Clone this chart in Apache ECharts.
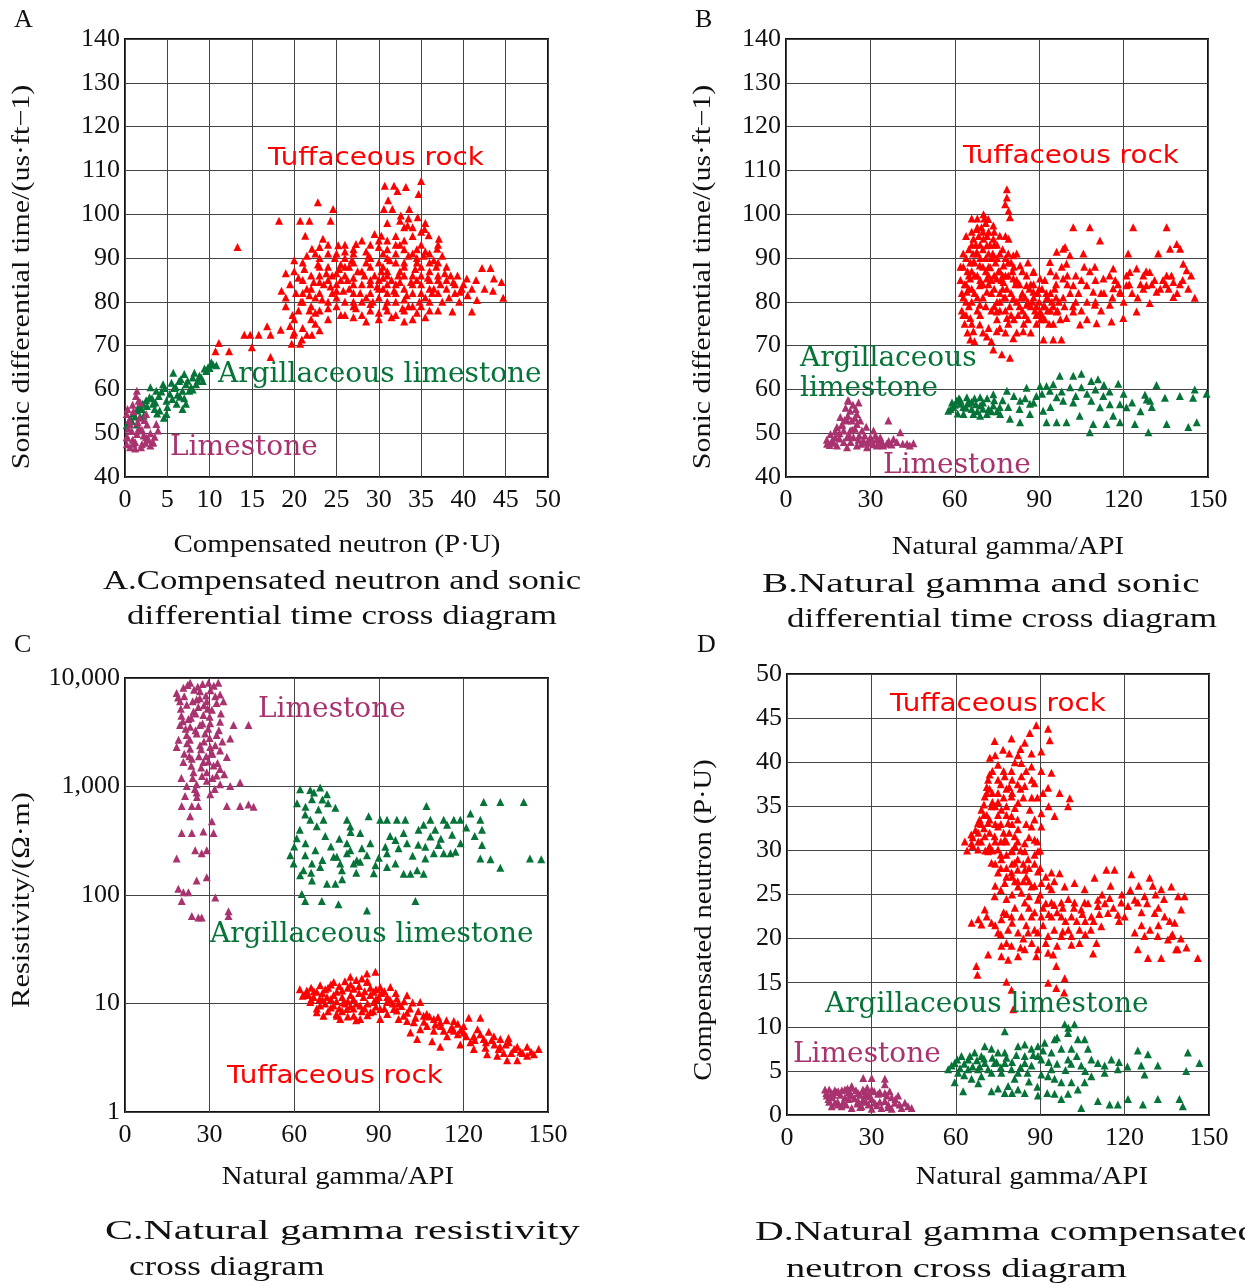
<!DOCTYPE html>
<html><head><meta charset="utf-8">
<script src="https://cdn.jsdelivr.net/npm/echarts@6/dist/echarts.min.js"></script>
<style>html,body{margin:0;padding:0;background:#fff}#c{width:1245px;height:1286px}</style>
</head><body><div id="c"></div>
<script>
// ---------- tick labels ----------
const aXTicks = [0,5,10,15,20,25,30,35,40,45,50];
const sonicTicks = [40,50,60,70,80,90,100,110,120,130,140];
const gammaTicks = [0,30,60,90,120,150];
const resTicks = [1,10,100,1000,10000];
const resTickLabels = ['1','10','100','1,000','10,000'];
const cnlTicks = [0,5,10,15,20,25,30,35,40,45,50];

// ---------- Panel A: compensated neutron (x) vs sonic (y) ----------
const aTuff = [
[13.3,92.5],[18.2,98.5],[20.7,98.5],[21.8,98.5],[22.8,102.7],[24.3,98.5],[24.6,101.2],[30.7,106.5],[31.8,106.5],[32.2,105.3],[33.2,106.2],[35.0,107.6],[34.7,104.6],[31.1,103.2],[30.6,101.2],[31.6,101.2],[33.6,101.2],
[14.1,72.5],[14.8,72.5],[15.8,72.5],[16.8,74.4],[17.2,72.5],[15.0,69.6],[11.1,70.6],[10.7,68.7],[12.3,68.7],[17.2,67.4],[19.7,70.4],[20.7,70.4],[18.4,73.6],[19.9,72.5],[20.9,71.4],[22.1,72.5],
[42.2,87.7],[43.2,87.7],[43.6,85.3],[44.7,80.9],[41.6,80.4],[41.0,77.8],[38.7,77.8],[39.6,82.3],[40.4,85.3],[37.1,94.4],[35.9,95.2],[36.9,92.1],
[32.6,99.7],[34.6,99.3],[33.4,97.4],[35.4,96.6],[29.5,95.5],[30.3,95.1],[23.4,94.4],[21.3,95.1],[25.2,92.9],[27.3,93.2],[22.1,92.1],
[19.5,84],[20.2,82],[20.8,80],[21.5,83],[22,86],[22.5,81],[23,78],[23.5,84],[24,88],[24.5,82],[25,79],[25.5,85],[26,90],[26.5,83],[27,80],[27.5,87],[28,84],[28.5,81],[29,78],[29.5,86],[30,89],[30.5,83],[31,80],[31.5,85],[32,91],[32.5,87],[33,83],[33.5,79],[34,86],[34.5,89],[35,84],[35.5,81],[36,87],[36.5,83],[37,85],[37.5,80],[38,83],[39,82],[40,84],
[19,81],[20,87],[21,89],[22,79],[23,88],[24,76],[25,91],[26,77],[27,91],[28,77],[29,93],[30,76],[31,92],[32,77],[33,94],[34,76],[35,93],[36,78],
[21,85],[23,82],[25,84],[27,84],[29,82],[31,87],[33,89],[35,88],[37,89],[38.5,86],[39.5,80],[22.5,91],[26.5,88],[30.5,91],[34.5,92],[28.5,89],[24.5,86],[20.5,78],[22,76],[21,74],[20,73],
[32,84],[34,82],[36,80],[33,86],[31,82],[29,85],[27,82],[25,81],[23,86],[26,86],[30,81],[32,80],[34,79],[36,85],[38,88],[41,83],[19.8,77],[21.8,78],[35,96],[33,97],[32,95],[31,94],[34,97],[36,91],[37,93],[24,93],[26,93],[28,94],[23,90],[33,92],[30,85],[28,80],[24,80],[26,80],
[20.5,85.5],[21.2,87.5],[21.8,81.5],[22.3,84.5],[22.8,88.5],[23.3,80.5],[23.8,86.5],[24.3,83.5],[24.8,90],[25.3,87.5],[25.8,82.5],[26.3,85],[26.8,89.5],[27.3,78.5],[27.8,82],[28.3,86],[28.8,90.5],[29.3,80],[29.8,83.5],[30.3,87],[30.8,79],[31.3,89.5],[31.8,82.5],[32.3,86],[32.8,78.5],[33.3,81.5],[33.8,84.5],[34.3,87.5],[34.8,80],[35.3,90.5],[35.8,85.5],[36.3,82],[36.8,88],[37.3,84],[37.8,86.5],[38.3,81],[38.8,84.5],[39.3,86],[39.8,83],[40.5,81.5],[41.5,85],[42.5,83],[43.5,82.5],[44.5,84.5],
[30,77.5],[31.5,76.5],[33,75.5],[34.5,77.5],[35.5,76.5],[37,78],[21,80],[22.5,77.5],[24,78.5],[25.5,77],[27,76.5],[28.5,75.5],[20,76],[19.5,74.5],[21.5,72.5],[23,73.5],[22.5,75],
[31,98],[32.5,98.5],[33.5,99],[34,95],[35.5,98],[32.5,93],[30,92.5],[28.5,91.5],[27,89],[25.5,88.5],[24,91],[29,88],[31,90],[33.5,90.5],[34.5,90],[35.5,91.5],[36.5,89.5],[37.5,90.5],[32,89],[30.5,88],[26,91.5],[23,92.5],[21.5,90.5],[20,89.5],[19,86.5],[18.5,82.5],[19,79],
[22,83],[24,85],[26,88],[28,87],[30,83],[32,82],[34,84],[36,83],[38,85],[23,84.5],[25,86.5],[27,85.5],[29,84],[31,84],[33,80.5],[35,82],[37,82],[39,84],[21,82],[25,82.5],[27,79],[29,79.5],[31,78],[33,78],[35,79],[37,86],[30.5,85.5],[32.5,84.5],[34.5,85],[33,88],[31,86],[29,90],[27,92],[35,86],[36,89],[34,91],[32,93],[30,94]
];
const aArg = [
[10.4,65.7],[9.6,64.2],[8.8,63.1],[8.0,62.7],[7.2,61.2],[5.7,63.8],[6.4,61.9],[4.5,61.2],[3.7,59.7],[2.9,58.2],[2.1,56.7],[1.4,55.2],[0.6,53.3],[0.2,51.8],
[4.9,57.4],[6.1,56.7],[7.2,56.7],[3.3,56.7],[4.1,55.2],[4.9,54.4],[1.8,53.7],[5.3,59.0],[6.8,59.7],[7.6,59.7],[8.4,61.2],[9.2,61.9],[10.0,64.9],
[3.0,60.5],[2.5,57.5],[1.0,54.5],[5.8,60.3],[6.5,58.3],[8.6,62.0],[9.8,65.0],[0.4,52.5],[1.6,56.0],[4.0,58.5],[7.8,60.5],
[0.8,52.8],[1.2,53.8],[2.0,55.5],[2.6,56.2],[3.2,58.0],[3.6,57.0],[4.3,59.5],[4.7,60.3],[5.5,61.5],[6.0,60.5],[6.6,62.3],[7.0,63.5],[7.4,62.0],[8.2,63.8],[9.0,62.8],[9.4,64.8],[10.2,66.2],[10.8,65.5],[3.8,54.5],[5.0,56.0],[5.6,57.8],[6.2,58.8],[7.0,58.0],[2.2,54.0],[1.4,52.0],[3.5,55.5],[8.0,60.0],[6.8,55.5],[4.6,53.5]
];
const aLime = [
[1.4,59.7],[1.6,57.4],[0.2,54.4],[0.6,52.1],[1.8,50.6],[2.5,49.1],[3.3,48.0],[1.0,47.6],[1.9,46.8],[0.2,49.1],[3.7,52.1],[3.9,50.6],[2.5,54.4],
[0.3,49],[0.8,50.5],[1.2,48],[1.6,51],[2.2,49.5],[2.8,48.5],[0.5,53],[1.0,55],[1.5,52.5],[2.0,47.5],[3.0,50],[0.2,47.5],[1.8,57],[1.3,58.5],[3.3,47.8],[2.6,52],
[0.4,51],[0.9,48.5],[1.4,49.8],[2.0,50.8],[2.4,47.8],[3.0,47.2],[0.6,46.8],[1.2,46.5],[1.7,53.5],[2.3,53],[3.5,49.2],[0.3,55.5],[0.9,56.5]
];

// ---------- Panel B: natural gamma (x) vs sonic (y) ----------
const bTuff = [
[78.5,105.7],[78.5,103.8],[77.9,102.3],[79.1,100.8],[79.6,99.3],[70.2,100.0],[71.9,98.9],[67.8,96.6],[73.7,97.4],[76.0,95.1],[66.6,94.4],[71.4,92.9],[79.1,94.4],
[66.6,89.1],[68.9,88.3],[73.7,90.6],[80.8,90.6],[83.2,88.3],[65.5,85.3],[64.3,82.3],[66.0,80.0],[68.9,79.3],[71.4,82.3],[74.9,85.3],[80.8,85.3],[85.5,83.8],[87.9,82.3],[85.5,79.3],[90.3,77.8],[92.6,80.8],[96.2,77.8],[99.7,76.3],[104.5,74.8],[102.1,77.8],
[65.5,76.3],[68.9,74.8],[66.6,73.3],[71.4,72.1],[74.9,73.3],[80.8,71.7],[84.3,73.3],[91.5,71.4],[95.0,71.4],[97.9,71.4],[73.7,69.1],[76.7,68.0],[79.6,67.2],[65.5,71.4],[78.5,76.3],[74.9,77.8],[80.8,80.8],[71.4,85.3],[68.9,83.8],[72.6,87.9],[77.3,88.3],[70.2,94.4],[73.7,94.4],[67.8,91.4],[77.3,84.5],
[87.9,86.8],[90.3,85.3],[93.8,89.1],[96.2,91.4],[98.5,92.1],[100.9,90.6],[102.1,97.0],[108.0,97.0],[111.6,94.0],[105.7,91.0],[99.7,88.7],[98.5,85.3],[102.1,83.8],[106.9,83.8],[109.8,88.0],[109.2,82.3],[112.8,85.3],[116.3,87.6],[116.3,83.1],[109.8,79.3],[115.1,79.3],[118.7,82.3],[121.0,83.8],[122.2,86.8],[121.6,91.0],[123.4,97.0],[124.6,87.6],[127.0,86.0],[129.3,86.8],[128.1,83.8],[131.7,82.3],[135.3,97.0],[132.3,91.0],[136.5,92.1],[140.1,92.1],[138.9,93.2],[141.2,88.7],[135.3,86.0],[137.7,84.5],[137.7,81.1],[145.3,80.9],[142.4,87.2],[129.3,79.7],[124.6,77.8],[119.9,76.3],[115.7,75.5],[110.4,75.1],[99.2,92.5],
[62,85],[63,88],[64,80],[65,92],[66,83],[67,86],[68,81],[69,90],[70,84],[71,79],[72,88],[73,82],[74,86],[75,80],[76,91],[77,83],[78,78],[79,86],[80,82],[81,76],[82,80],[83,84],[84,78],[85,81],[86,76],[87,79],[88,84],[89,77],[90,80],[91,83],[92,76],[93,78],[94,82],[95,75],[97,80],[99,79],[101,82],[103,80],[105,78],[107,76],
[63,77],[66,75],[69,77],[72,74],[75,76],[78,73],[64,95],[68,97],[72,96],[66,99],[70,92],[74,93],[76,87],[78,90],[65,86],[68,91],[71,87],[73,90],
[108,87],[112,82],[115,86],[118,84],[120,80],[122,84],[126,84],[130,84],[134,85],[136,83],[140,84],[143,83],[105,85],[100,86],[96,84],
[62.5,82],[63.5,84],[64.5,87],[65.5,89],[66.5,91],[67.5,93],[68.5,95],[69.5,97],[70.5,99],[71.5,95],[72.5,93],[73.5,91],[74.5,89],[75.5,87],[76.5,85],[77.5,81],[78.5,83],[79.5,79],[80.5,87],[81.5,84],[82.5,77],[83.5,81],[84.5,75],[85.5,86],[86.5,83],[87.5,80],[88.5,78],[89.5,82],[90.5,76],[91.5,79],[92.5,82],[93.5,75],[94.5,80],[95.5,83],[96.5,78],[97.5,76],[98.5,81],
[62.5,78],[63.5,75],[64.5,73],[67,71],[70,73],[73,71],[76,74],[79,75],[82,73],[87,73],[89,75],[64,90],[66,93],[68,86],[70,88],[72,84],[74,79],[76,82],[78,86],[80,89],[82,91],[84,87],[86,89],[88,87],[92,85],[94,87],[96,86],[98,88],[100,84],[103,86],[106,88],[110,85],[113,82],[117,85],[119,82],[121,86],[123,82],[125,81],[127,83],[128,87],[131,85],[133,83],[135,84],[137,86],[139,82],[141,85],[144,86],[110,80],[104,82],[107,80],[112,78],[116,81],[102,79],
[62,88],[63,91],[64,84],[65,79],[66,87],[67,82],[68,78],[69,85],[70,81],[71,90],[72,86],[73,78],[74,83],[75,90],[76,78],[77,86],[78,81],[79,89],[80,77],[63,81],[64,77],[65,83],[66,96],[67,89],[68,99],[69,93],[70,96],[71,98],[72,91],[73,85],[74,96],[75,93],[76,80],[77,92],[78,95],[79,91],[81,88],[82,85],[83,79],[84,82],[85,77],[86,80],[87,84],[88,81],[89,79],[90,83],[91,77],[92,79],[93,81],[94,78],[95,79],[96,81]
];
const bArg = [
[57.7,55.1],[60.7,57.4],[64.3,58.2],[69.0,58.2],[73.7,58.9],[78.5,59.7],[83.2,57.4],[85.5,60.4],[90.3,60.8],[92.6,60.8],[95.0,61.2],[97.3,63.1],[102.1,63.1],[105.0,63.6],[108.5,61.9],[110.9,62.3],[118.1,61.3],[131.7,61.0],[145.3,60.0],[149.5,59.0],[144.7,58.1],[134.7,58.1],[128.2,57.7],[127.6,58.8],
[112.8,58.5],[115.1,56.6],[118.7,56.6],[116.3,54.0],[111.6,55.9],[108.5,57.4],[104.4,54.0],[102.1,57.0],[98.5,57.4],[99.7,52.5],[96.2,52.5],[92.6,52.5],[91.4,55.1],[86.7,54.4],[83.2,52.5],[79.6,53.3],[76.1,54.4],[73.7,56.3],[71.4,54.4],[69.0,56.3],[66.6,54.4],[63.1,54.4],[61.9,56.7],[59.5,56.0],
[109.2,52.1],[113.9,52.1],[118.7,52.5],[124.0,52.1],[128.8,50.2],[108.0,50.2],[135.3,52.1],[143.0,51.4],[129.4,57.4],[121.0,55.9],[86.7,56.7],[93.8,59.7],[96.2,58.2],
[58.5,55.5],[60,56.5],[62,57.5],[63,56],[65,57],[66,55.5],[67,58],[68,55],[70,57],[72,55.5],[74,57.5],[76,56],[61,54.5],[64,55.8],[69,54],
[59,57],[61.5,58],[64.5,56.8],[66,57.2],[67.5,56.6],[70,55.6],[71.5,58],[73,55],[75,55],[77,57.5],[79,56],[81,58.5],[83,55.5],[85,58],[88,57],[89,58.5],[91,59],[94,56],[98,59.5],[101,60.5],[103,58.5],[105,60.5],[107,59],[110,60],[113,61],[115,59.5],[120,59],[123,57],[126,55],[130,56],[140,58.5],[146,52.5]
];
const bLime = [
[22.3,57.4],[25.8,57.0],[22.8,55.1],[25.2,54.4],[21.7,52.9],[18.1,51.4],[15.8,49.8],[14.6,47.6],[18.1,47.2],[21.7,46.8],[25.2,47.2],[28.8,46.8],[32.3,47.2],[35.8,47.6],[39.4,48.0],[43.0,47.6],[45.3,47.7],[40.6,50.2],[36.4,52.9],[31.1,50.6],[30.0,49.1],[27.0,50.6],[25.2,52.1],[20.5,50.6],[17.5,49.1],[24.0,49.1],[27.6,48.3],[33.5,49.1],[19.3,53.7],[23.4,52.9],[26.4,52.9],[21.7,49.1],[20.5,48.0],[22.8,50.6],[32.3,48.7],[38.2,48.7],
[16.5,48.5],[19,50],[23,48],[26,49.5],[29,48],[31,47.5],[34,48.2],[24.5,51],[22,54],[20,52],
[14.5,48.5],[15.5,47.3],[16.8,47.8],[17.5,50.5],[19,48.8],[19.8,51.8],[20.8,53],[21.2,55.8],[22.5,49.5],[23.5,50.8],[24.5,53.5],[25.8,48.5],[26.8,47.6],[28,49.5],[28.5,51.5],[29.5,47.8],[30.5,48.5],[31.8,49.5],[33,47.6],[34.5,47.2],[36.5,48.2],[37.5,47.4],[41.5,47.6],[44,47.2],[23.8,56.5],[22,57.5],[24.8,55.5]
];

// ---------- Panel C: natural gamma (x) vs resistivity (y, log) ----------
const cTuff = [
[64.5,13.2],[69.2,14.7],[74.0,15.8],[79.9,17.6],[85.8,18.9],[88.8,19.6],[71.6,11.5],[66.9,11.5],[75.1,12.8],[81.1,13.7],[85.8,15.8],[90.5,14.2],[94.1,14.2],[100.0,11.9],[104.7,10.3],
[69.2,9.6],[74.0,9.6],[78.7,8.9],[83.4,9.6],[88.2,10.3],[92.9,10.3],[96.4,11.1],[70.4,7.7],[75.1,7.7],[81.1,7.7],[87.0,8.3],[90.5,7.2],[95.3,8.9],[98.8,7.7],[102.4,6.7],[105.9,7.7],[109.5,7.2],[111.8,6.7],[116.6,6.9],[121.9,7.4],[126.0,7.4],
[116.6,5.6],[120.1,5.4],[123.7,5.0],[127.2,4.7],[130.8,5.0],[133.1,4.7],[136.1,4.4],[139.1,4.0],[142.6,4.0],[146.7,3.8],[101.2,5.4],[103.6,4.7],[108.9,4.5],[111.8,4.0],[118.9,4.2],[123.7,3.8],[128.4,3.4],[132.0,3.3],[135.5,3.0],[139.1,3.0],[142.6,3.3],[132.5,3.8],[127.8,3.9],[122.5,4.4],[114.2,5.0],[109.5,5.6],[107.1,6.2],
[77.5,10.3],[84.6,11.5],[88.2,12.8],[96.4,8.6],[100.0,6.9],[65.7,10.3],[68.0,8.3],[64.5,12.3],[76.3,7.2],[83.4,7.2],[90.5,8.9],[104.7,5.8],[115.4,5.8],[120.1,6.2],[134.3,3.5],[140.2,3.6],
[67,13],[70,12.5],[72,14],[76,14.5],[78,16],[82,16.5],[84,17],[86,16],[73,11],[77,11.5],[80,12],[83,12.5],[87,12],[90,11.5],[93,11.5],[68,9],[72,8.5],[76,9],[80,9.5],[84,8.5],[88,8.5],[92,9],[95,10],[98,9.5],[101,9],[104,8.5],[107,8],[111,7.5],[114,7],[118,6.5],
[63.5,12],[66,14],[71,10],[79,10.5],[86,10],[89,13.5],[75,8],[82,7],[125,5.8],[129,5.5],[136,4.8],[144,3.6],[113,5.6],[118,5.2],[131,4.2],[137,3.5],
[62,13.5],[63,11.8],[65,12],[68,12.8],[69,11],[71,13.5],[73,15],[74,12],[75,10.5],[77,13.2],[78,10],[79,14],[80,15],[81,11],[82,10],[83,14.5],[85,13],[85,9],[87,14],[89,11],[91,12.5],[92,13],[94,10.8],[96,12.5],[97,10],[99,10.5],[102,10.2],[103,7.4],[106,6.8],[108,7.6],[110,6.4],[112,6.2],[116,6],[119,5.7],[121,5],[124,4.6],[126,5.2],[128,4.4],[130,4.6],[133,4],[135,4.2],[138,3.8],[141,3.5],[145,3.4],[66,10.8],[70,10.8],[73,9.2],[77,8.5],[79,7.6],[81,9],[86,7.8],[89,9.4],[93,8],[97,7.2],[100,8.2]
];
const cArg = [
[62.1,945],[65.7,930],[69.2,980],[71.6,848],[66.3,761],[74.6,636],[68.6,614],[63.9,551],[65.7,495],[70.4,495],[78.7,495],[79.9,429],[83.4,372],[86.4,532],[90.5,495],[92.9,495],[96.4,495],[99.4,495],
[106.9,660],[108.3,495],[104.1,399],[105.9,445],[113.0,495],[114.2,445],[116.6,495],[118.9,495],[122.5,563],[126.0,495],[127.2,719],[133.1,719],[141.4,719],[126.6,399],[126.6,289],[126.0,217],[129.6,214],[133.1,178],[143.6,217],[147.6,214],
[108.3,346],[111.2,289],[106.5,279],[109.5,242],[115.4,242],[117.2,250],[113.0,242],[106.5,217],[95.9,322],[98.8,372],[100.0,300],[92.3,279],[92.9,242],[95.9,195],[92.9,181],[88.8,188],[85.8,233],[82.2,209],[81.1,195],
[78.7,300],[78.7,242],[75.1,225],[76.3,195],[76.9,169],[79.9,259],[74.0,225],[69.2,181],[66.3,195],[63.3,169],[62.1,152],[59.8,195],[58.6,233],[60.9,334],[63.9,233],[67.5,259],[66.3,136],[71.6,127],[74.6,127],
[62.7,102],[63.9,88],[69.8,88],[75.7,82],[85.8,72],[103.0,88],[101.2,157],[103.6,169],[105.9,157],[98.8,157],[88.2,159],[83.4,202],
[61,700],[64,650],[67,880],[70,760],[72,700],[62,400],[64,300],[68,430],[71,350],[73,280],[76,330],[80,380],[84,270],[87,300],[90,220],[94,350],[97,270],[102,230],[104,290],[110,400],[112,330],[116,360],[119,300],[121,420],[124,350],[60,280],[66,160],[70,210],[77,140],[82,160]
];
const cLime = [
[18.3,7290],[20.7,8130],[23.1,9040],[26.6,7560],[29.6,9040],[33.1,9040],[33.7,7030],[19.5,6100],[21.9,5680],[25.4,6320],[29.0,6100],[32.5,5880],[34.9,6100],[24.3,4920],[27.8,4570],[30.8,5090],
[19.5,3690],[23.1,3560],[26.6,3690],[30.2,3830],[33.7,3960],[38.5,3690],[43.8,3690],[21.9,2980],[25.4,3080],[28.4,3080],[32.5,2980],[37.3,2770],[18.3,2310],[23.1,2230],[26.6,2400],[30.2,2310],[33.7,2150],[36.1,1870],
[20.7,1680],[23.7,1800],[27.8,1680],[31.4,1560],[33.7,1450],[24.3,1350],[29.0,1350],[32.5,1260],[21.9,1010],[25.4,1050],[29.0,1130],[33.7,1050],[37.3,1010],[40.8,1090],[21.3,818],[25.4,879],[30.2,848],
[23.7,660],[26.0,660],[20.1,660],[36.1,660],[40.8,660],[43.8,684],[45.6,650],[23.1,532],[30.8,478],[20.1,372],[23.7,372],[27.8,385],[31.4,372],[24.9,259],[27.2,242],[29.0,259],[18.3,217],[25.4,136],[29.0,146],
[18.9,114],[20.7,106],[22.5,106],[32.0,95],[20.1,88],[23.7,64],[26.0,62],[36.7,64],[36.7,71],[27.2,62],
[22.5,4200],[25,3300],[28,2600],[31,2000],[27,1500],[23,2700],[30,4400],[24.5,7800],[21,6800],[26,5400],[29.5,3400],[32,2400],[20,4500],[31.5,8500],[27.5,8800],
[18.8,6600],[19.8,5200],[20.5,4000],[21.5,3400],[22,2500],[22.8,1900],[23.5,1550],[24,1200],[24.8,950],[25.5,800],[26.2,1900],[27,2200],[27.5,3800],[28,5600],[28.7,6900],[29.3,5200],[30,2800],[30.5,2000],[31,1200],[31.8,950],[32.8,1650],[33.3,3300],[34,4700],[34.5,2600],[35.2,1300],[19,2700],[20,1200],[21,2000],[22.2,8600],[25.8,8300],[24,6100],[26.5,6500],[30.3,7700],[32,6800],[27.3,1250],[28.8,1900],[29.6,1700],[23.4,4300],[25,4700]
];

// ---------- Panel D: natural gamma (x) vs compensated neutron (y) ----------
const dTuff = [
[88.6,44.2],[92.8,43.8],[86.3,43.3],[93.4,42.5],[73.8,42.4],[79.8,42.7],[84.5,42.2],[76.8,41.4],[82.1,40.8],[86.9,41.0],[90.4,41.2],[72.1,40.5],[75.0,39.7],[83.3,39.9],[86.9,39.5],[79.8,39.0],[83.3,38.4],[90.4,39.0],[94.0,38.8],
[71.5,38.0],[77.4,38.4],[84.5,37.3],[88.0,37.6],[92.8,37.1],[96.9,36.5],[100.5,35.9],[99.9,35.0],[95.1,33.9],[90.4,34.2],[86.3,34.6],[82.1,35.4],[70.3,36.1],[75.0,36.5],[79.8,36.1],[69.1,34.6],[72.7,35.0],[76.2,34.6],[79.8,33.9],
[67.9,33.1],[71.5,33.1],[75.0,32.7],[78.6,33.1],[82.1,32.4],[86.9,32.7],[90.4,32.7],[70.3,31.6],[73.8,31.6],[77.4,31.2],[80.9,31.6],[84.5,30.8],[88.0,31.2],[63.2,31.0],[65.6,30.8],[67.9,30.1],[71.5,29.9],[75.0,30.1],[79.8,29.9],[84.5,29.9],[89.2,29.9],
[72.7,28.6],[76.2,29.0],[80.9,28.6],[85.7,29.0],[75.0,27.5],[79.8,27.5],[84.5,27.8],[89.2,27.6],[94.0,27.5],[96.9,27.4],[90.4,26.3],[77.4,26.3],[82.1,25.9],[86.9,25.9],[73.8,24.8],[83.3,25.2],[94.0,25.6],[98.7,25.9],[102.2,26.3],[105.8,25.6],[109.3,26.9],[113.5,27.8],[116.4,27.8],[122.4,27.3],[128.9,26.9],[136.6,25.9],[141.3,24.8],[133.0,25.6],[127.1,24.8],[123.6,24.4],[118.8,24.1],[114.7,24.6],[110.5,24.4],[105.8,24.1],[102.2,24.1],[97.5,24.1],[94.0,24.1],[89.2,24.4],[84.5,24.1],
[70.3,23.3],[65.6,21.8],[69.1,21.6],[72.7,21.8],[76.2,22.2],[79.8,22.5],[83.3,22.5],[86.9,22.5],[90.4,22.5],[94.0,22.5],[97.5,22.5],[101.1,22.5],[104.6,23.3],[108.2,22.5],[110.5,23.7],[114.1,22.9],[117.6,22.7],[121.2,23.7],[124.7,24.1],[130.7,22.9],[134.2,22.5],[137.8,21.8],[140.1,23.3],
[75.0,20.7],[78.6,21.0],[82.1,20.7],[85.7,20.7],[89.2,20.7],[92.8,20.3],[97.5,20.3],[101.1,20.3],[111.7,21.4],[123.6,20.7],[127.1,20.3],[131.8,20.3],[136.6,20.3],[138.9,18.8],[135.4,19.9],[124.7,18.8],[128.3,17.8],[133.0,17.8],[138.3,18.8],[146.0,17.8],
[71.5,18.2],[76.2,19.2],[79.8,19.2],[84.5,18.8],[89.2,18.8],[92.8,18.4],[76.2,18.0],[78.6,17.6],[82.1,18.0],[88.6,18.0],[94.6,18.2],[101.1,19.3],[108.8,18.3],[67.3,16.9],[67.7,15.9],[78.0,15.1],[79.8,14.2],[92.8,15.0],[95.7,14.4],[98.7,15.5],[98.5,13.9],[95.7,16.9],[80.4,12.0],
[68,32],[70,34],[72,37],[74,33],[76,31],[78,35],[80,30],[82,29],[73,30],[69,31],[66,31.5],[71,36.5],[75,38],[78,27],[81,26.5],[85,27],[88,26],[90,25],[92,24],[96,23],[99,22],[102,23.5],[106,22],[112,25],[115,26],[119,25],[125,26],[131,25],[77,23],[81,23.5],[85,21.5],[88,21],[78,19.5],[83,19],[87,19.5],[91,21.5],[95,21],[100,21],[104,21],[108,21],
[64,30],[65.5,31.8],[67,32.3],[68.5,33.5],[70,35.2],[71,37.2],[72,38.6],[73,39],[74,40.8],[76,37.5],[77,36],[78,34],[79,37.2],[80,38],[81,34.8],[82,33.5],[83,37],[84,36],[85,33],[86,31.5],[87,36],[88,33.5],[89,31],[70.5,30],[72,32],[74,28.5],[76,28],[78,29.5],[80,28.5],[82,27.8],[84,26.5],[86,28],[88,28.5],[90,28],[92,27],[93,26],[95,26.5],[74,26],[76,25.5],[78,24.5],[80,25],[86,24.8],[91,23.5],[93,22.8],[95,23.8],[98,23.5],[100,24.5],[103,22],[105,22.8],[107,24],[109,22],[111,22.8],[113,24],[116,23.5],[118,22],[120,22.5],[122,25.5],[126,23],[128,24],[130,26],[132,23.5],[134,24.5],[136,22],[139,24.8],[137,20.5],[140,20],[142,19],[132,21.5],[129,21],[126,21.5],[80,21.8],[84,20],[86,23.5],[88,23],[92,19.5],[96,19.2],[98,20.8],[104,19.5],[106,20.5],[110,19.5],[78,22.8],[76,20.5],[74,21.5],[71,22.5],[68,22.2],
[66,30.5],[68,31],[69,33],[70,32.5],[71,34],[72,33.5],[73,35.5],[74,35],[75,34],[76,33],[77,32],[78,31],[79,32],[80,33],[81,30.5],[82,31],[83,30],[72,30.5],[74,31],[76,29.5],[78,28],[80,27],[82,26.5],[84,28.5],[86,26.5],[88,29.5],[90,30],[73,36.5],[75,35.5],[77,39],[79,41],[81,40],[83,41.5],[85,39],[87,38],[89,36],[91,36.5],[93,35],[78,37],[80,36.5],[82,37.5]
];
const dArg = [
[57.3,5.2],[59.6,5.9],[62.0,6.7],[64.4,6.3],[66.7,7.1],[69.1,6.7],[70.3,7.8],[72.7,7.5],[75.0,7.1],[77.4,7.1],[77.4,9.5],[82.1,7.8],[84.5,8.0],[86.9,7.5],[89.2,7.8],[91.6,8.2],[95.1,8.6],[98.7,10.3],[102.2,10.3],[99.9,9.3],[103.4,8.6],[105.8,8.6],[101.1,7.5],[97.5,7.5],[94.0,7.1],[90.4,6.3],[86.9,5.6],[84.5,5.9],[82.1,4.8],[79.8,5.2],[77.4,5.9],[73.8,5.9],[70.3,5.9],[67.9,5.2],[64.4,5.2],[60.8,4.8],
[59.6,3.7],[65.6,4.1],[69.1,4.4],[72.7,4.8],[76.2,4.8],[78.6,3.3],[82.1,2.9],[80.9,4.1],[84.5,2.5],[89.2,2.2],[92.8,4.4],[95.1,4.1],[97.5,3.7],[101.1,3.7],[103.4,2.9],[105.8,3.7],[108.2,4.4],[110.5,5.9],[112.9,5.6],[115.3,6.3],[112.9,4.8],[117.6,5.2],
[124.7,7.3],[128.3,6.9],[125.9,5.6],[127.1,4.6],[131.8,5.6],[142.5,7.1],[146.6,5.9],[141.9,5.0],[97.5,1.8],[95.1,2.4],[99.9,2.4],[104.6,0.8],[110.5,1.6],[114.7,1.2],[117.6,1.2],[121.2,1.8],[126.5,1.2],[131.8,1.8],[139.5,1.8],[140.7,1.0],
[62.6,2.7],[72.7,2.7],[77.4,2.5],[94.0,5.2],[90.4,4.6],[99.9,6.3],[104.6,5.6],[108.2,6.3],[84.5,6.7],[89.2,6.7],
[58.5,5.6],[60.5,6.3],[61.5,5.3],[63,5.8],[65,6.7],[66,5.5],[67.5,6.2],[68.5,5.5],[70,6.4],[71.5,5.2],[73,6.5],[74.5,6],[76,5.4],[78,6.5],[80,6],[81.5,6.8],[83,5.4],[85.5,4.8],[87.5,6.8],[91,7.3],[93,6],[96,5.8],[99,5.1],[101,5.8],[103,6.7],[106,5],[107,7.5],[96,8.8],[100,9.9],[92.5,2.5],[89,3.2],[86,3.8],[80,2.5],[75,3],[68,3.6],[63,4.5],[118,6],[121,5.5]
];
const dLime = [
[13.5,2.9],[15.9,2.5],[18.2,2.7],[20.6,2.9],[23.0,3.1],[25.3,2.5],[27.7,2.7],[30.1,2.9],[32.4,2.4],[34.8,2.5],[37.2,2.0],[39.5,2.2],[41.9,1.4],[44.3,0.8],[27.1,4.2],[30.1,4.2],[34.8,4.1],[34.8,3.5],[23.0,3.3],
[14.7,1.8],[17.0,1.4],[19.4,1.0],[23.0,0.8],[26.5,1.0],[30.1,0.7],[33.6,0.8],[37.2,0.7],[40.7,0.8],[15.9,1.0],[20.6,2.0],[25.3,1.6],[30.1,1.8],[34.8,1.6],[38.3,1.4],[23.0,2.2],[27.7,2.2],[31.2,1.4],[14.1,2.2],
[16,2],[18,1.5],[21,1.2],[24,1.9],[26,0.9],[28,1.5],[32,1.1],[36,1.2],[29,2.4],[22,2.6],[19,2.3],[17,2.8],
[14,2.5],[15,2.9],[16.5,2.3],[17.5,2.6],[19.5,2.8],[21.5,3],[22.5,2.4],[24.5,2.8],[26,2.3],[27,2.9],[28.5,3.1],[29.5,2.1],[31,2.7],[33,2.6],[35.5,2.2],[36.5,2.7],[38.5,1.8],[40,1.2],[43,1.0],[20,1.5],[22,1.8],[25,1.3],[27,1.7],[29,1.2],[33,1.5],[36,0.9],[15,1.5],[18,1.2]
];

// ---------- styling ----------
const RED = '#ff0000', GREEN = '#067338', PURPLE = '#a8336f';
const SERIF = '"Liberation Serif","Times New Roman",serif';
const gridBase = {show:true, backgroundColor:'transparent', borderColor:'#111', borderWidth:2, containLabel:false};
const grids = [
  Object.assign({left:125, top:39, width:423, height:438}, gridBase),
  Object.assign({left:786, top:39, width:422, height:438}, gridBase),
  Object.assign({left:125, top:678, width:423, height:434}, gridBase),
  Object.assign({left:787, top:674, width:422, height:441}, gridBase)
];
const splitLine = {show:true, lineStyle:{color:'#444', width:1}};
const lbl = {fontFamily:SERIF, fontSize:26, color:'#111'};
function xa(gi, min, max, interval){
  return {type:'value', gridIndex:gi, min, max, interval, axisLine:{show:false}, axisTick:{show:false},
    splitLine, axisLabel:Object.assign({margin:10}, lbl)};
}
function ya(gi, min, max, interval){
  return {type:'value', gridIndex:gi, min, max, interval, axisLine:{show:false}, axisTick:{show:false},
    splitLine, axisLabel:Object.assign({margin:5}, lbl)};
}
const xAxes = [
  xa(0, aXTicks[0], aXTicks[aXTicks.length-1], 5),
  xa(1, gammaTicks[0], gammaTicks[gammaTicks.length-1], 30),
  xa(2, gammaTicks[0], gammaTicks[gammaTicks.length-1], 30),
  xa(3, gammaTicks[0], gammaTicks[gammaTicks.length-1], 30)
];
const yAxes = [
  ya(0, sonicTicks[0], sonicTicks[sonicTicks.length-1], 10),
  ya(1, sonicTicks[0], sonicTicks[sonicTicks.length-1], 10),
  {type:'log', logBase:10, gridIndex:2, min:resTicks[0], max:resTicks[resTicks.length-1],
    axisLine:{show:false}, axisTick:{show:false}, splitLine,
    axisLabel:Object.assign({margin:5, formatter:function(v){const i=resTicks.indexOf(Math.round(v)); return i>=0?resTickLabels[i]:'';}}, lbl)},
  ya(3, cnlTicks[0], cnlTicks[cnlTicks.length-1], 5)
];
function sc(gi, data, color){
  return {type:'scatter', xAxisIndex:gi, yAxisIndex:gi, data, symbol:'triangle', symbolSize:8,
    itemStyle:{color, opacity:1}, silent:true, animation:false};
}
const series = [
  sc(0,aTuff,RED), sc(0,aArg,GREEN), sc(0,aLime,PURPLE),
  sc(1,bTuff,RED), sc(1,bArg,GREEN), sc(1,bLime,PURPLE),
  sc(2,cTuff,RED), sc(2,cArg,GREEN), sc(2,cLime,PURPLE),
  sc(3,dTuff,RED), sc(3,dArg,GREEN), sc(3,dLime,PURPLE)
];

function txt(s, x, y, font, fill, align, sx, rot){
  return {type:'text', x, y, rotation:rot||0, scaleX:sx||1, z:100,
    style:{text:s, font, fill, textAlign:align||'left', textVerticalAlign:'middle'}};
}
const capF = '28px ' + SERIF, nameF = '25px ' + SERIF, letF = '26px ' + SERIF;
const tuffF = '25px "DejaVu Sans",sans-serif', argF = '28px "DejaVu Serif",serif';
const R90 = Math.PI/2;
const graphics = [
  txt('A', 14, 20, letF, '#111'), txt('B', 695, 20, letF, '#111'),
  txt('C', 14, 645, letF, '#111'), txt('D', 697, 645, letF, '#111'),
  txt('Sonic differential time/(us·ft−1)', 22, 277, nameF, '#111', 'center', 1.2, R90),
  txt('Sonic differential time/(us·ft−1)', 703, 277, nameF, '#111', 'center', 1.2, R90),
  txt('Resistivity/(Ω·m)', 22, 900, nameF, '#111', 'center', 1.22, R90),
  txt('Compensated neutron (P·U)', 704, 920, nameF, '#111', 'center', 1.14, R90),
  txt('Compensated neutron (P·U)', 337, 545, nameF, '#111', 'center', 1.16),
  txt('Natural gamma/API', 1008, 547, nameF, '#111', 'center', 1.15),
  txt('Natural gamma/API', 338, 1177, nameF, '#111', 'center', 1.15),
  txt('Natural gamma/API', 1032, 1177, nameF, '#111', 'center', 1.15),
  txt('A.Compensated neutron and sonic', 103, 582, capF, '#111', 'left', 1.24),
  txt('differential time cross diagram', 127, 617, capF, '#111', 'left', 1.25),
  txt('B.Natural gamma and sonic', 762, 585, capF, '#111', 'left', 1.40),
  txt('differential time cross diagram', 787, 620, capF, '#111', 'left', 1.25),
  txt('C.Natural gamma resistivity', 105, 1232, capF, '#111', 'left', 1.50),
  txt('cross diagram', 129, 1268, capF, '#111', 'left', 1.25),
  txt('D.Natural gamma compensated', 755, 1233, capF, '#111', 'left', 1.42),
  txt('neutron cross diagram', 786, 1270, capF, '#111', 'left', 1.37),
  txt('Tuffaceous rock', 268, 158, tuffF, RED, 'left', 1.11),
  txt('Argillaceous limestone', 218, 375, argF, GREEN),
  txt('Limestone', 170, 448, argF, PURPLE),
  txt('Tuffaceous rock', 963, 156, tuffF, RED, 'left', 1.11),
  txt('Argillaceous', 800, 359, argF, GREEN),
  txt('limestone', 800, 389, argF, GREEN),
  txt('Limestone', 883, 466, argF, PURPLE),
  txt('Limestone', 258, 710, argF, PURPLE),
  txt('Argillaceous limestone', 210, 935, argF, GREEN),
  txt('Tuffaceous rock', 227, 1076, tuffF, RED, 'left', 1.11),
  txt('Tuffaceous rock', 890, 704, tuffF, RED, 'left', 1.11),
  txt('Argillaceous limestone', 825, 1005, argF, GREEN),
  txt('Limestone', 793, 1055, argF, PURPLE)
];

const chart = echarts.init(document.getElementById('c'), null, {renderer:'canvas'});
chart.setOption({
  animation:false, backgroundColor:'#fff',
  grid:grids, xAxis:xAxes, yAxis:yAxes, series, graphic:graphics
});
</script></body></html>
